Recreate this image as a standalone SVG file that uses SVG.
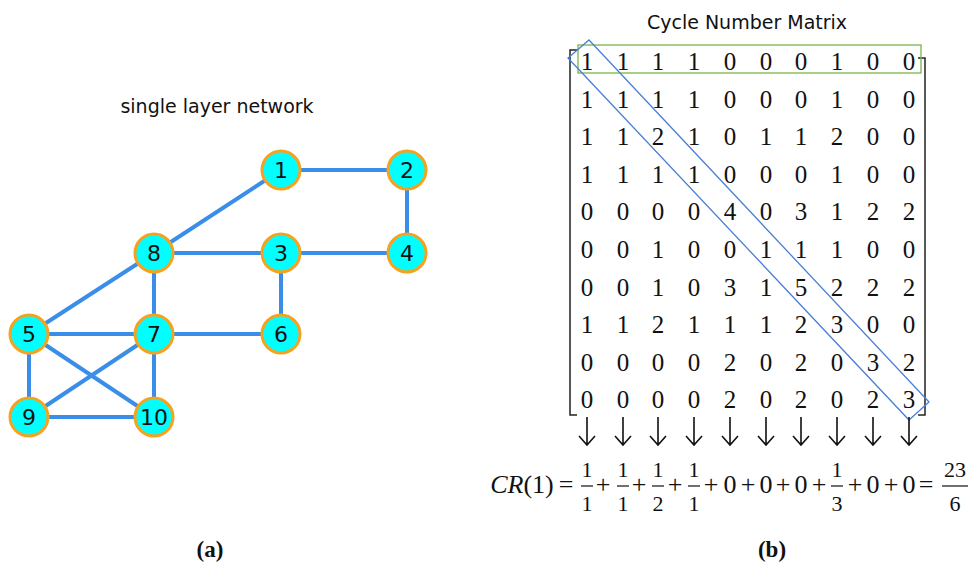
<svg xmlns="http://www.w3.org/2000/svg" xmlns:xlink="http://www.w3.org/1999/xlink" width="969" height="565" viewBox="0 0 969 565">
<style>
.edge{stroke:#3a8ee8;stroke-width:4;fill:none}
.node circle{fill:#00ffff;stroke:#f5a21f;stroke-width:3}
.node text{font-family:"DejaVu Sans","Noto Sans",sans-serif;font-size:22px;fill:#111;text-anchor:middle}
.title{font-family:"DejaVu Sans","Noto Sans",sans-serif;font-size:19px;fill:#111;text-anchor:middle}
.mat{font-family:"Liberation Serif","Times New Roman",serif;font-size:25px;fill:#111;text-anchor:middle}
.eq{font-family:"Liberation Serif","Times New Roman",serif;font-size:26px;fill:#111;text-anchor:middle}
.fr{font-family:"Liberation Serif","Times New Roman",serif;font-size:22px;fill:#111;text-anchor:middle}
.cap{font-family:"Liberation Serif","Times New Roman",serif;font-size:23px;font-weight:bold;fill:#111;text-anchor:middle}
.br{stroke:#222;stroke-width:1.5;fill:none}
.bar{stroke:#111;stroke-width:1.2}
.arr{stroke:#111;stroke-width:1.6;fill:none}
</style>
<defs>
<path id="arrow" class="arr" d="M0,0 V28 M-8,19 L0,28 L8,19"/>
</defs>
<rect width="969" height="565" fill="#fff"/>
<text class="title" x="217" y="113">single layer network</text>
<g id="edges">
<line class="edge" x1="281" y1="170" x2="407" y2="170"/>
<line class="edge" x1="407" y1="170" x2="407" y2="253"/>
<line class="edge" x1="281" y1="170" x2="154" y2="253"/>
<line class="edge" x1="154" y1="253" x2="281" y2="253"/>
<line class="edge" x1="281" y1="253" x2="407" y2="253"/>
<line class="edge" x1="281" y1="253" x2="281" y2="334"/>
<line class="edge" x1="154" y1="253" x2="154" y2="334"/>
<line class="edge" x1="154" y1="253" x2="29" y2="334"/>
<line class="edge" x1="29" y1="334" x2="154" y2="334"/>
<line class="edge" x1="154" y1="334" x2="281" y2="334"/>
<line class="edge" x1="29" y1="334" x2="29" y2="417"/>
<line class="edge" x1="29" y1="334" x2="154" y2="417"/>
<line class="edge" x1="154" y1="334" x2="29" y2="417"/>
<line class="edge" x1="154" y1="334" x2="154" y2="417"/>
<line class="edge" x1="29" y1="417" x2="154" y2="417"/>
</g>
<g id="n1" class="node"><circle cx="281" cy="170" r="19"/><text x="281" y="178">1</text></g>
<g id="n2" class="node"><circle cx="407" cy="170" r="19"/><text x="407" y="178">2</text></g>
<g id="n3" class="node"><circle cx="281" cy="253" r="19"/><text x="281" y="261">3</text></g>
<g id="n4" class="node"><circle cx="407" cy="253" r="19"/><text x="407" y="261">4</text></g>
<g id="n5" class="node"><circle cx="29" cy="334" r="19"/><text x="29" y="342">5</text></g>
<g id="n6" class="node"><circle cx="281" cy="334" r="19"/><text x="281" y="342">6</text></g>
<g id="n7" class="node"><circle cx="154" cy="334" r="19"/><text x="154" y="342">7</text></g>
<g id="n8" class="node"><circle cx="154" cy="253" r="19"/><text x="154" y="261">8</text></g>
<g id="n9" class="node"><circle cx="29" cy="417" r="19"/><text x="29" y="425">9</text></g>
<g id="n10" class="node"><circle cx="154" cy="417" r="19"/><text x="154" y="425">10</text></g>

<text class="title" x="747" y="29">Cycle Number Matrix</text>
<g id="matrix">
<path class="br" d="M577,50 H570 V415 H577"/>
<path class="br" d="M918,58 H925 V415 H918"/>
<text class="mat" x="587 623 658 694 730 766 801 837 873 909" y="70">1111000100</text>
<text class="mat" x="587 623 658 694 730 766 801 837 873 909" y="108">1111000100</text>
<text class="mat" x="587 623 658 694 730 766 801 837 873 909" y="145">1121011200</text>
<text class="mat" x="587 623 658 694 730 766 801 837 873 909" y="183">1111000100</text>
<text class="mat" x="587 623 658 694 730 766 801 837 873 909" y="220">0000403122</text>
<text class="mat" x="587 623 658 694 730 766 801 837 873 909" y="258">0010011100</text>
<text class="mat" x="587 623 658 694 730 766 801 837 873 909" y="296">0010315222</text>
<text class="mat" x="587 623 658 694 730 766 801 837 873 909" y="333">1121112300</text>
<text class="mat" x="587 623 658 694 730 766 801 837 873 909" y="371">0000202032</text>
<text class="mat" x="587 623 658 694 730 766 801 837 873 909" y="408">0000202023</text>
<rect x="578" y="45" width="343" height="28" fill="none" stroke="#7ab648" stroke-width="1.3"/>
<polygon points="589,40 929,402 909,420 568,58" fill="none" stroke="#4a7fd6" stroke-width="1.3"/>
</g>
<g id="arrows">
<use xlink:href="#arrow" x="587" y="417"/>
<use xlink:href="#arrow" x="623" y="417"/>
<use xlink:href="#arrow" x="658" y="417"/>
<use xlink:href="#arrow" x="694" y="417"/>
<use xlink:href="#arrow" x="730" y="417"/>
<use xlink:href="#arrow" x="766" y="417"/>
<use xlink:href="#arrow" x="801" y="417"/>
<use xlink:href="#arrow" x="837" y="417"/>
<use xlink:href="#arrow" x="873" y="417"/>
<use xlink:href="#arrow" x="909" y="417"/>
</g>
<g id="equation">
<text class="eq" x="522" y="493"><tspan font-style="italic">CR</tspan>(1)</text>
<text class="eq" x="566" y="493">=</text>
<text class="fr" x="587" y="477">1</text>
<text class="fr" x="623" y="477">1</text>
<text class="fr" x="658" y="477">1</text>
<text class="fr" x="694" y="477">1</text>
<text class="fr" x="837" y="477">1</text>
<text class="fr" x="955" y="477">23</text>
<text class="fr" x="587" y="511">1</text>
<text class="fr" x="623" y="511">1</text>
<text class="fr" x="658" y="511">2</text>
<text class="fr" x="694" y="511">1</text>
<text class="fr" x="837" y="511">3</text>
<text class="fr" x="955" y="511">6</text>
<line class="bar" x1="581" y1="486" x2="593" y2="486"/>
<line class="bar" x1="617" y1="486" x2="629" y2="486"/>
<line class="bar" x1="652" y1="486" x2="664" y2="486"/>
<line class="bar" x1="688" y1="486" x2="700" y2="486"/>
<line class="bar" x1="831" y1="486" x2="843" y2="486"/>
<line class="bar" x1="942" y1="486" x2="968" y2="486"/>
<text class="eq" x="603" y="493">+</text>
<text class="eq" x="639" y="493">+</text>
<text class="eq" x="675" y="493">+</text>
<text class="eq" x="711" y="493">+</text>
<text class="eq" x="748" y="493">+</text>
<text class="eq" x="783" y="493">+</text>
<text class="eq" x="819" y="493">+</text>
<text class="eq" x="855" y="493">+</text>
<text class="eq" x="891" y="493">+</text>
<text class="eq" x="730" y="493">0</text>
<text class="eq" x="766" y="493">0</text>
<text class="eq" x="801" y="493">0</text>
<text class="eq" x="873" y="493">0</text>
<text class="eq" x="909" y="493">0</text>
<text class="eq" x="926" y="493">=</text>
</g>
<text class="cap" x="210" y="557">(a)</text>
<text class="cap" x="772" y="557">(b)</text>
</svg>
